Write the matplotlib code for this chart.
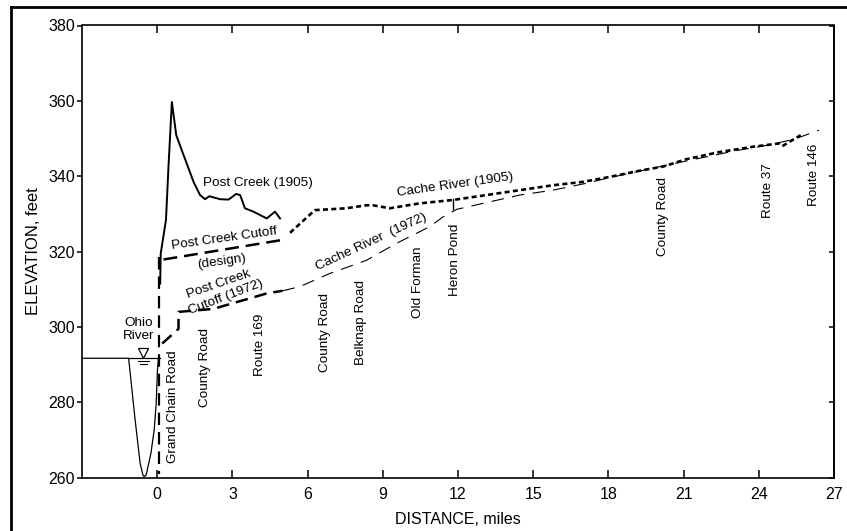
import matplotlib
matplotlib.use("Agg")
import matplotlib.pyplot as plt
from matplotlib.lines import Line2D

plt.rcParams['font.family'] = ['Liberation Sans', 'DejaVu Sans']
plt.rcParams['lines.scale_dashes'] = False

# ---- profile data (distance in miles, elevation in feet) ----
post_creek_1905_x = [0.12, 0.14, 0.35, 0.45, 0.585, 0.76, 0.98, 1.45, 1.71, 1.91, 2.08, 2.51,
                     2.84, 2.97, 3.15, 3.31, 3.50, 3.84, 4.37, 4.70, 4.90]
post_creek_1905_y = [311.5, 319.5, 328.4, 342.5, 359.7, 350.9, 346.9, 338.5, 335.0, 333.9, 334.7,
                     333.9, 333.8, 334.4, 335.3, 335.0, 331.5, 330.6, 328.8, 330.6, 328.8]

cutoff_design_x = [0.25, 4.90]
cutoff_design_y = [317.9, 323.0]

cutoff_drop_x = [0.08, 0.08]
cutoff_drop_y = [318.5, 261.0]

cutoff_1972_x = [0.20, 0.85, 0.85, 2.24, 4.37, 5.00]
cutoff_1972_y = [295.6, 299.5, 304.0, 304.8, 308.9, 309.6]

cache_1905_x = [5.30, 6.29, 7.55, 8.35, 8.60, 9.28, 10.47, 11.80, 13.13, 14.46, 15.78,
                16.98, 18.04, 19.20, 20.20, 21.10, 22.42, 23.75, 24.80, 24.94, 25.67]
cache_1905_y = [325.0, 331.0, 331.5, 332.3, 332.3, 331.5, 332.8, 333.7, 335.0, 336.3, 337.6,
                338.5, 339.8, 341.4, 342.6, 344.5, 346.4, 347.8, 348.7, 348.0, 350.9]

cache_1972_x = [5.00, 5.69, 6.89, 8.35, 9.55, 10.87, 11.40, 11.94, 13.13, 14.46, 15.78,
                17.10, 17.90, 19.20, 20.50, 21.80, 23.10, 24.40, 25.40, 26.40]
cache_1972_y = [309.6, 310.7, 314.2, 317.7, 322.2, 326.6, 329.2, 331.2, 333.0, 335.0, 336.3,
                338.1, 339.4, 341.3, 343.2, 345.0, 346.8, 348.3, 349.8, 352.2]

river_x = [-3.0, -1.14, -0.88, -0.68, -0.57, -0.52, -0.44, -0.25, -0.12, -0.04, 0.01, 0.05]
river_y = [291.7, 291.7, 275.3, 263.8, 260.7, 260.3, 260.7, 266.5, 272.7, 279.7, 288.6, 291.7]
river_surface_x = [-1.14, 0.10]
river_surface_y = [291.7, 291.7]

heron_marker_x = [11.82, 11.82]
heron_marker_y = [331.4, 333.9]

xticks = [0, 3, 6, 9, 12, 15, 18, 21, 24, 27]
yticks = [260, 280, 300, 320, 340, 360, 380]

# road crossings: (label, distance, elevation of top of label)
road_names = ["Grand Chain Road", "County Road", "Route 169", "County Road", "Belknap Road",
              "Old Forman", "Heron Pond", "County Road", "Route 37", "Route 146"]
road_x = [0.64, 1.91, 4.10, 6.69, 8.15, 10.41, 11.87, 20.16, 24.35, 26.20]
road_top = [293.9, 299.6, 303.6, 308.9, 312.4, 321.3, 327.5, 339.8, 343.4, 348.7]

W, H = 847, 531
fig = plt.figure(figsize=(W / 100, H / 100), dpi=100)
ax = fig.add_axes([82 / W, 1 - 477.7 / H, (834 - 82) / W, (477.7 - 25.5) / H])

ax.set_xlim(-3, 27)
ax.set_ylim(260, 380)

# Ohio River cross-section
ax.plot(river_x, river_y, color='black', lw=0.9, solid_joinstyle='round')
ax.plot(river_surface_x, river_surface_y, color='black', lw=0.9)
ax.plot([-0.55], [293.0], marker='v', ms=6.5, mfc='white', mec='black', mew=0.9, ls='none')
ax.plot([-0.78, -0.32], [290.9, 290.9], color='black', lw=0.8)
ax.plot([-0.68, -0.42], [290.3, 290.3], color='black', lw=0.8)

# profiles
ax.plot(post_creek_1905_x, post_creek_1905_y, color='black', lw=1.4, solid_joinstyle='round')
ax.plot(cutoff_design_x, cutoff_design_y, color='black', lw=1.8, dashes=(10, 5))
ax.plot(cutoff_drop_x, cutoff_drop_y, color='black', lw=1.6, dashes=(9, 5))
ax.plot(cutoff_1972_x, cutoff_1972_y, color='black', lw=1.8, dashes=(9, 5))
ax.plot(cache_1905_x, cache_1905_y, color='black', lw=1.9, dashes=(3.6, 2.4))
ax.plot(cache_1972_x, cache_1972_y, color='black', lw=0.8, dashes=(9, 6))
ax.plot(heron_marker_x, heron_marker_y, color='black', lw=1.0)

fs = 9.7
ax.text(4.03, 338.1, "Post Creek (1905)", fontsize=fs, ha='center', va='center')
ax.text(2.67, 323.5, "Post Creek Cutoff", fontsize=fs, ha='center', va='center',
        rotation=8, rotation_mode='anchor')
ax.text(2.58, 317.3, "(design)", fontsize=fs, ha='center', va='center',
        rotation=8, rotation_mode='anchor')
ax.text(2.45, 311.3, "Post Creek", fontsize=fs, ha='center', va='center',
        rotation=19, rotation_mode='anchor')
ax.text(2.74, 307.8, "Cutoff (1972)", fontsize=fs, ha='center', va='center',
        rotation=21, rotation_mode='anchor')
ax.text(11.87, 337.6, "Cache River (1905)", fontsize=fs, ha='center', va='center',
        rotation=8, rotation_mode='anchor')
ax.text(8.55, 322.6, "Cache River  (1972)", fontsize=fs, ha='center', va='center',
        rotation=25, rotation_mode='anchor')
ax.text(-0.75, 299.3, "Ohio\nRiver", fontsize=fs, ha='center', va='center', linespacing=1.15)

for name, rx, top in zip(road_names, road_x, road_top):
    ax.text(rx, top, name, fontsize=fs, rotation=90, ha='center', va='top')

# axes styling
for s in ax.spines.values():
    s.set_linewidth(1.2)
ax.set_xticks(xticks)
ax.set_yticks(yticks)
ax.tick_params(axis='x', direction='in', length=6, width=1.1, top=True, bottom=True,
               labelsize=11.5, pad=7)
ax.tick_params(axis='y', direction='out', length=3.6, width=1.1, left=True, right=False,
               labelsize=11.5, pad=1.5)
sec = ax.secondary_yaxis('right')
sec.set_yticks(yticks)
sec.tick_params(direction='in', length=3.6, width=1.1, labelright=False)
sec.spines['right'].set_linewidth(1.2)

ax.set_xlabel("DISTANCE, miles", fontsize=11.5, labelpad=7)
ax.set_ylabel("ELEVATION, feet", fontsize=12, labelpad=5)

# outer frame
fig.add_artist(Line2D([11 / W, 11 / W], [0, 1 - 7 / H], transform=fig.transFigure,
                      color='black', lw=2.0))
fig.add_artist(Line2D([11 / W, 1], [1 - 7 / H, 1 - 7 / H], transform=fig.transFigure,
                      color='black', lw=2.0))

fig.savefig("out.png", dpi=100)
